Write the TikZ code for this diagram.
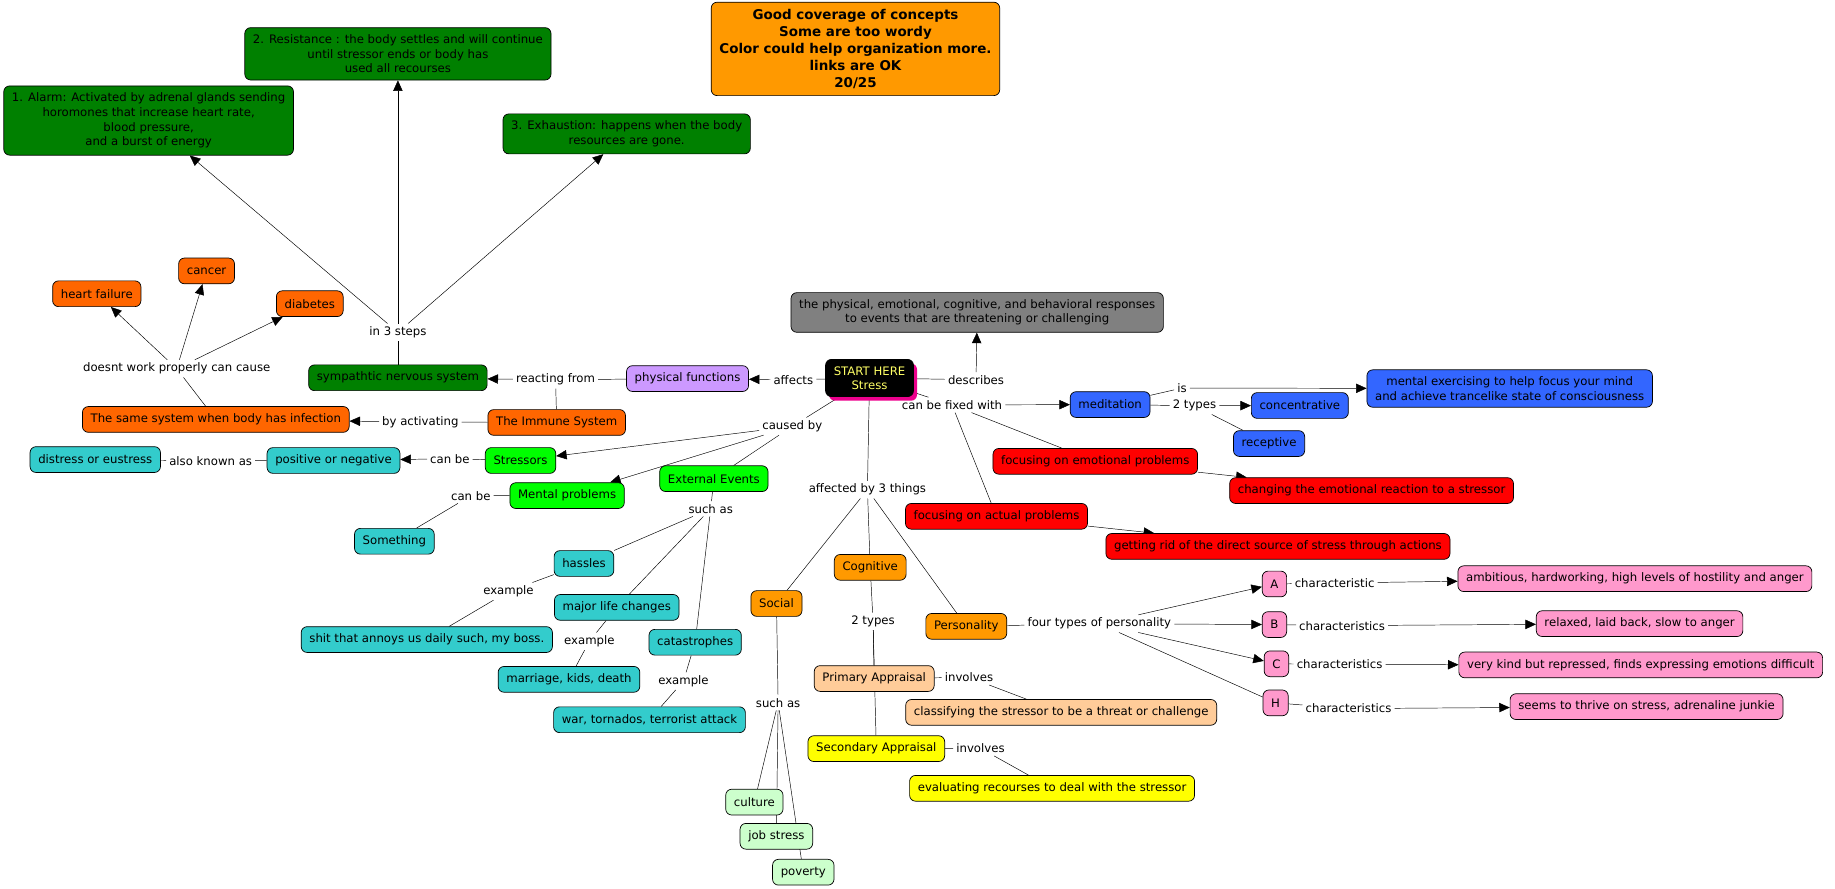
\documentclass[tikz,border=0pt]{standalone}
\usepackage{fontspec}
\setmainfont{DejaVu Sans}
\usetikzlibrary{arrows.meta,backgrounds,shadows}
\definecolor{stagegreen}{RGB}{0,128,0}
\definecolor{notecolor}{RGB}{255,153,0}
\definecolor{bodyorange}{RGB}{255,102,0}
\definecolor{funcpurple}{RGB}{204,153,255}
\definecolor{startyellow}{RGB}{255,255,102}
\definecolor{defgray}{RGB}{128,128,128}
\definecolor{medblue}{RGB}{51,102,255}
\definecolor{fixred}{RGB}{255,0,0}
\definecolor{eventteal}{RGB}{51,204,204}
\definecolor{causegreen}{RGB}{0,255,0}
\definecolor{primpeach}{RGB}{255,204,153}
\definecolor{secyellow}{RGB}{255,255,0}
\definecolor{socialmint}{RGB}{204,255,204}
\definecolor{typepink}{RGB}{255,153,204}

\begin{document}
\begin{tikzpicture}[x=1pt,y=-1pt,
    concept/.style={draw, line width=0.6pt, rounded corners=5pt, fill=#1, align=center,
      inner xsep=7pt, inner ysep=6pt, minimum height=22pt, font=\fontsize{10}{12.2}\selectfont},
    stage/.style={concept=stagegreen, font=\fontsize{10}{12.5}\selectfont},
    phrase/.style={inner sep=2.5pt, font=\fontsize{10}{12.2}\selectfont},
    arr/.style={-{Triangle[length=9pt,width=8pt]}}]
    \useasboundingbox (0,0) rectangle (1568,759.6);

    % Three steps
    \node[stage] (alarm) at (127,103) {1. Alarm: Activated by adrenal glands sending\\horomones that increase heart rate,\\blood pressure,\\and a burst of energy};
    \node[stage] (resist) at (340,46) {2. Resistance : the body settles and will continue\\until stressor ends or body has\\used all recourses};
    \node[stage] (exhaust) at (535.5,114.4) {3. Exhaustion: happens when the body\\resources are gone.};

    % Grade
    \node[concept=notecolor, font=\bfseries\fontsize{11.5}{14.5}\selectfont] (grade) at (731,41.8)
      {Good coverage of concepts\\Some are too wordy\\Color could help organization more.\\links are OK\\20/25};

    % Body systems
    \node[concept=bodyorange] (cancer) at (176.5,231.5) {cancer};
    \node[concept=bodyorange] (heartf) at (82.7,251) {heart failure};
    \node[concept=bodyorange] (diabetes) at (264.7,259.5) {diabetes};
    \node[phrase] (steps) at (340,284) {in 3 steps};
    \node[phrase] (cause) at (151,315) {doesnt work properly can cause};
    \node[concept=stagegreen] (sns) at (340,322.8) {sympathtic nervous system};
    \node[phrase] (reacting) at (474.7,324.5) {reacting from};
    \node[concept=funcpurple] (physical) at (587.5,323.5) {physical functions};
    \node[concept=bodyorange] (infection) at (184.4,358.4) {The same system when body has infection};
    \node[phrase] (activating) at (359.2,360.6) {by activating};
    \node[concept=bodyorange] (immune) at (475.7,361) {The Immune System};

    % Stressors
    \node[concept=eventteal] (distress) at (81.4,392.7) {distress or eustress};
    \node[phrase] (aka) at (180,393.7) {also known as};
    \node[concept=eventteal] (posneg) at (285,393.5) {positive or negative};
    \node[phrase] (canbe1) at (384.4,392) {can be};
    \node[concept=causegreen] (stressors) at (444.8,393.5) {Stressors};
    \node[concept=causegreen] (mental) at (484.6,423.5) {Mental problems};
    \node[phrase] (canbe2) at (402.3,423.6) {can be};
    \node[concept=eventteal] (something) at (337,462.5) {Something};
    \node[concept=causegreen] (external) at (610,409) {External Events};
    \node[phrase] (suchas1) at (607.3,434.7) {such as};
    \node[concept=eventteal] (hassles) at (499,481.5) {hassles};
    \node[phrase] (ex1) at (434.5,505.3) {example};
    \node[concept=eventteal] (annoys) at (364.7,546.5) {shit that annoys us daily such, my boss.};
    \node[concept=eventteal] (lifechg) at (527,519) {major life changes};
    \node[phrase] (ex2) at (503.6,548) {example};
    \node[concept=eventteal] (marriage) at (486.2,580.5) {marriage, kids, death};
    \node[concept=eventteal] (catastr) at (594,548.8) {catastrophes};
    \node[phrase] (ex3) at (584,582) {example};
    \node[concept=eventteal] (war) at (555,615) {war, tornados, terrorist attack};

    % Centre
    \node[concept=black, text=startyellow,
      drop shadow={shadow xshift=3pt, shadow yshift=-3.5pt, fill=magenta, opacity=1}]
      (start) at (743,323) {START HERE\\Stress};
    \node[concept=defgray] (responses) at (835,267) {the physical, emotional, cognitive, and behavioral responses\\to events that are threatening or challenging};
    \node[phrase] (affects) at (677.9,324.5) {affects};
    \node[phrase] (describes) at (834,324.5) {describes};
    \node[phrase] (fixed) at (813.5,346) {can be fixed with};
    \node[phrase] (caused) at (677,364.3) {caused by};
    \node[phrase] (affected) at (741.2,418.4) {affected by 3 things};

    % Coping
    \node[concept=medblue] (meditation) at (948.6,345.7) {meditation};
    \node[phrase] (is) at (1010,331.6) {is};
    \node[phrase] (types1) at (1020.7,346.7) {2 types};
    \node[concept=medblue] (concentr) at (1110.7,346.5) {concentrative};
    \node[concept=medblue] (receptive) at (1084.4,379) {receptive};
    \node[concept=medblue] (mentalex) at (1290,332) {mental exercising to help focus your mind\\and achieve trancelike state of consciousness};
    \node[concept=fixred] (emotional) at (935.9,394.2) {focusing on emotional problems};
    \node[concept=fixred] (changing) at (1172,419.2) {changing the emotional reaction to a stressor};
    \node[concept=fixred] (actual) at (851.5,441.2) {focusing on actual problems};
    \node[concept=fixred] (getrid) at (1092,466.9) {getting rid of the direct source of stress through actions};

    % Three things
    \node[concept=notecolor] (social) at (663.5,515.7) {Social};
    \node[phrase] (suchas2) at (664.9,600.4) {such as};
    \node[concept=socialmint] (culture) at (644.6,685.4) {culture};
    \node[concept=socialmint] (jobstress) at (663.4,714.6) {job stress};
    \node[concept=socialmint] (poverty) at (686.4,745.3) {poverty};
    \node[concept=notecolor] (cognitive) at (743.6,484.8) {Cognitive};
    \node[phrase] (types2) at (746,530.9) {2 types};
    \node[concept=primpeach] (primary) at (747,579.8) {Primary Appraisal};
    \node[phrase] (involves1) at (828,578.8) {involves};
    \node[concept=primpeach] (classify) at (906.8,608.7) {classifying the stressor to be a threat or challenge};
    \node[concept=secyellow] (secondary) at (748.8,639.7) {Secondary Appraisal};
    \node[phrase] (involves2) at (837.8,639.4) {involves};
    \node[concept=secyellow] (evaluate) at (899,673.6) {evaluating recourses to deal with the stressor};
    \node[concept=notecolor] (personality) at (825.7,535.2) {Personality};
    \node[phrase] (fourtypes) at (939.4,532.9) {four types of personality};

    % Personality types
    \node[concept=typepink] (typeA) at (1089,499) {A};
    \node[concept=typepink] (typeB) at (1089,533.7) {B};
    \node[concept=typepink] (typeC) at (1090.7,567.2) {C};
    \node[concept=typepink] (typeH) at (1090,600.6) {H};
    \node[phrase] (charA) at (1140.4,498.2) {characteristic};
    \node[phrase] (charB) at (1146.8,534.6) {characteristics};
    \node[phrase] (charC) at (1144.7,567.9) {characteristics};
    \node[phrase] (charH) at (1152.3,605.5) {characteristics};
    \node[concept=typepink] (ambitious) at (1397,494.5) {ambitious, hardworking, high levels of hostility and anger};
    \node[concept=typepink] (relaxed) at (1401,532.9) {relaxed, laid back, slow to anger};
    \node[concept=typepink] (verykind) at (1402,568.2) {very kind but repressed, finds expressing emotions difficult};
    \node[concept=typepink] (thrive) at (1407,603.8) {seems to thrive on stress, adrenaline junkie};

    % Links
    \begin{scope}[on background layer, line width=0.7pt]
    \foreach \a/\b in {sns/steps, infection/cause, physical/reacting, immune/reacting, immune/activating,
        stressors/canbe1, posneg/aka, aka/distress, mental/canbe2, canbe2/something,
        external/suchas1, suchas1/hassles, suchas1/lifechg, suchas1/catastr, hassles/ex1, ex1/annoys,
        lifechg/ex2, ex2/marriage, catastr/ex3, ex3/war, start/affects, start/describes, start/fixed,
        start/caused, start/affected, caused/external, fixed/emotional, fixed/actual,
        affected/social, affected/cognitive, affected/personality, social/suchas2, suchas2/culture,
        suchas2/jobstress, suchas2/poverty, cognitive/types2, types2/primary, types2/secondary,
        primary/involves1, involves1/classify, secondary/involves2, involves2/evaluate,
        meditation/is, meditation/types1, types1/receptive, personality/fourtypes, fourtypes/typeH,
        typeA/charA, typeB/charB, typeC/charC, typeH/charH}
      \draw (\a) -- (\b);
    \foreach \a/\b in {steps/alarm, steps/resist, steps/exhaust, cause/heartf, cause/cancer, cause/diabetes,
        reacting/sns, activating/infection, caused/stressors, caused/mental, canbe1/posneg,
        affects/physical, describes/responses, fixed/meditation, is/mentalex, types1/concentr,
        emotional/changing, actual/getrid, fourtypes/typeA, fourtypes/typeB, fourtypes/typeC,
        charA/ambitious, charB/relaxed, charC/verykind, charH/thrive}
      \draw[arr] (\a) -- (\b);
    \end{scope}

\end{tikzpicture}
\end{document}
